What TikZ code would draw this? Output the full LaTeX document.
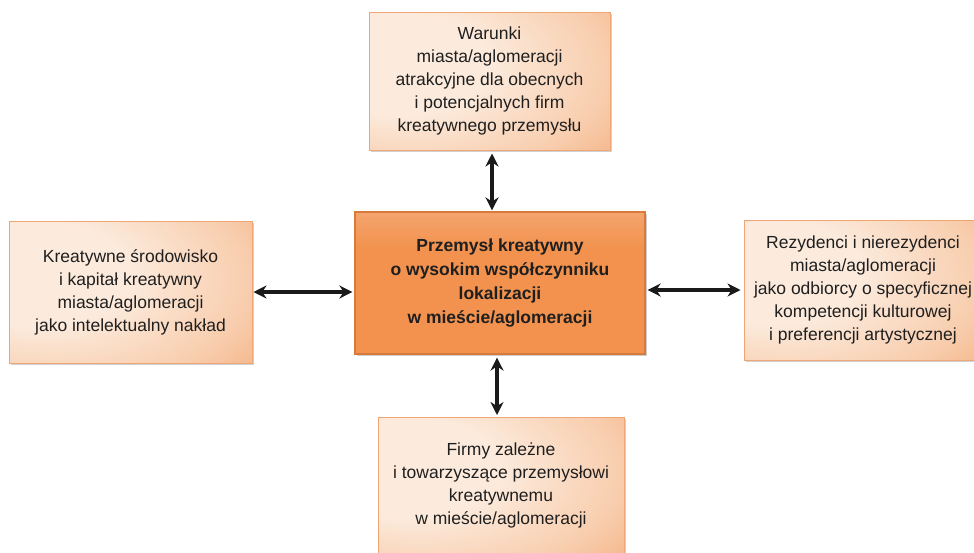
\documentclass[tikz,border=0pt]{standalone}
\usepackage{fontspec}
\setmainfont{Liberation Sans}
\usetikzlibrary{arrows.meta,shadows}

\definecolor{boxcream}{HTML}{FCEBDD}
\definecolor{boxmid}{HTML}{F8CDAD}
\definecolor{boxedge}{HTML}{F19E65}
\definecolor{boxline}{HTML}{EFA677}
\definecolor{coretop}{HTML}{F6B78D}
\definecolor{coremain}{HTML}{F2924E}
\definecolor{coreline}{HTML}{D9793C}
\definecolor{inktext}{HTML}{1F1F1F}
\definecolor{arrowink}{HTML}{1A1A1A}

% soft glow: light towards the upper left, orange at the rim
\pgfdeclareradialshading{softbox}{\pgfpoint{-24bp}{8bp}}{%
  color(0bp)=(boxcream);color(18bp)=(boxcream);color(38bp)=(boxmid);%
  color(58bp)=(boxedge);color(85bp)=(boxedge)}
\pgfdeclareverticalshading{corebox}{100bp}{%
  color(0bp)=(coremain);color(62bp)=(coremain);color(88bp)=(coretop);color(100bp)=(coretop)}

\tikzset{
  sidebox/.style={draw=boxline, line width=1pt, shading=softbox,
    minimum width=#1, inner sep=0pt, align=center, text=inktext,
    font=\fontsize{17.5}{23}\selectfont,
    drop shadow={shadow xshift=1.5pt, shadow yshift=-1.5pt, opacity=0.18, fill=black}},
  corenode/.style={draw=coreline, line width=1.2pt, shading=corebox,
    minimum width=290pt, minimum height=142pt, inner sep=0pt, align=center,
    text=inktext, font=\fontsize{17.5}{24}\selectfont\bfseries,
    drop shadow={shadow xshift=1.5pt, shadow yshift=-1.5pt, opacity=0.2, fill=black}},
  link/.style={{Stealth[length=13pt,width=13pt]}-{Stealth[length=13pt,width=13pt]},
    draw=arrowink, line width=3.2pt}
}

\begin{document}
\begin{tikzpicture}[x=1pt, y=-1pt]
\useasboundingbox[fill=white] (0,0) rectangle (974,552);

\node[corenode] (core) at (500,283)
  {Przemysł kreatywny\\ o wysokim współczynniku\\ lokalizacji\\ w mieście/aglomeracji};

\node[sidebox=241pt, minimum height=138pt] (top) at (489.5,81)
  {Warunki\\ miasta/aglomeracji\\ atrakcyjne dla obecnych\\ i potencjalnych firm\\ kreatywnego przemysłu};

\node[sidebox=243pt, minimum height=142pt] (left) at (130.5,292)
  {Kreatywne środowisko\\ i kapitał kreatywny\\ miasta/aglomeracji\\ jako intelektualny nakład};

\node[sidebox=238pt, minimum height=140pt] (right) at (863,290)
  {Rezydenci i nierezydenci\\ miasta/aglomeracji\\ jako odbiorcy o specyficznej\\ kompetencji kulturowej\\ i preferencji artystycznej};

\node[sidebox=246pt, minimum height=136pt] (bottom) at (501,485)
  {Firmy zależne\\ i towarzyszące przemysłowi\\ kreatywnemu\\ w mieście/aglomeracji};

% two-way links between the core and each surrounding box
\draw[link] ([xshift=2.5pt,yshift=-3pt]top.south) -- ([xshift=2.5pt,yshift=1pt]top.south |- core.north);
\draw[link] ([xshift=-3pt,yshift=-3pt]core.south) -- ([xshift=-3pt,yshift=1.5pt]core.south |- bottom.north);
\draw[link] ([xshift=1pt]left.east) -- ([xshift=-2pt]left.east -| core.west);
\draw[link] ([xshift=2pt,yshift=-7pt]core.east) -- ([xshift=-3pt,yshift=-7pt]core.east -| right.west);
\end{tikzpicture}
\end{document}
